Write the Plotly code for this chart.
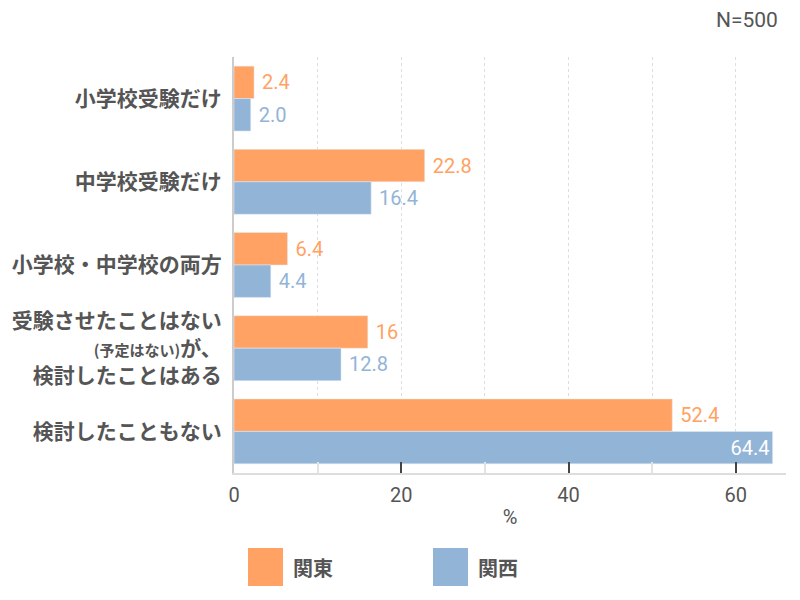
import plotly.graph_objects as go

categories = [
    "小学校受験だけ",
    "中学校受験だけ",
    "小学校・中学校の両方",
    "受験させたことはない<br><span style='font-size:15px'>(予定はない)</span>が、<br>検討したことはある",
    "検討したこともない",
]
kanto = [2.4, 22.8, 6.4, 16, 52.4]
kansai = [2.0, 16.4, 4.4, 12.8, 64.4]
kanto_labels = ["2.4", "22.8", "6.4", "16", "52.4"]
kansai_labels = ["2.0", "16.4", "4.4", "12.8", "64.4"]
x_ticks = [0, 20, 40, 60]

ORANGE = "#FFA263"
BLUE = "#92B4D7"
GRAY = "#555555"
FONT = "Noto Sans CJK JP"

fig = go.Figure()
fig.add_trace(go.Bar(
    y=categories, x=kanto, orientation="h", name="関東",
    marker=dict(color=ORANGE),
    text=[" " + t for t in kanto_labels], textposition="outside",
    textfont=dict(color=ORANGE, size=20, family="Roboto"),
    cliponaxis=False,
))
# last blue label sits inside the bar in white
kansai_pos = ["outside"] * (len(kansai) - 1) + ["inside"]
kansai_col = [BLUE] * (len(kansai) - 1) + ["white"]
kansai_txt = [" " + t for t in kansai_labels[:-1]] + [kansai_labels[-1]]
fig.add_trace(go.Bar(
    y=categories, x=kansai, orientation="h", name="関西",
    marker=dict(color=BLUE),
    text=kansai_txt, textposition=kansai_pos,
    insidetextanchor="end",
    textfont=dict(color=kansai_col, size=20, family="Roboto"),
    cliponaxis=False,
))

# the page body adds an 8px offset, so margins are shifted to compensate
fig.update_layout(
    width=800, height=600,
    barmode="group", bargap=0.22, bargroupgap=0,
    plot_bgcolor="white", paper_bgcolor="white",
    margin=dict(l=226, r=22, t=49, b=135),
    showlegend=False,
    font=dict(family=FONT, color=GRAY),
    uniformtext=dict(mode=False),
)
fig.update_xaxes(
    automargin=False,
    range=[0, 66], tickvals=x_ticks,
    ticks="inside", ticklen=11, tickcolor="#444", tickwidth=1.5,
    ticklabelstandoff=3,
    tickfont=dict(size=20, family="Roboto", color=GRAY),
    showgrid=True, gridcolor="#dddddd", griddash="dot",
    minor=dict(dtick=10, showgrid=True, gridcolor="#dddddd", griddash="dot",
               ticks="inside", ticklen=11, tickcolor="#e3e3e3"),
    showline=True, linecolor="#dddddd", linewidth=2,
    zeroline=False,
    title=dict(text="%", font=dict(size=20, family="Roboto", color=GRAY), standoff=4),
)
fig.update_yaxes(
    automargin=False,
    autorange="reversed",
    showline=True, linecolor="#cccccc", linewidth=2,
    ticks="", ticklabelstandoff=6,
    tickfont=dict(size=21, color=GRAY, family=FONT, weight="bold"),
    showgrid=False,
)

fig.add_annotation(
    text="N=500", xref="paper", yref="paper", x=1, y=1 + (57 - 20) / 416,
    xanchor="right", yanchor="middle", xshift=-6, showarrow=False,
    font=dict(size=21, family="Roboto", color=GRAY),
)

# custom legend with large swatches
legend_items = [("関東", ORANGE, 248), ("関西", BLUE, 433)]
for name, color, px in legend_items:
    x0 = (px - 234) / 552
    x1 = (px + 35 - 234) / 552
    fig.add_shape(type="rect", xref="paper", yref="paper",
                  x0=x0, x1=x1, y0=(473 - 548) / 416, y1=(473 - 586) / 416,
                  fillcolor=color, line=dict(width=0))
    fig.add_annotation(text=name, xref="paper", yref="paper",
                       x=(px + 43 - 234) / 552, y=(473 - 567) / 416,
                       xanchor="left", yanchor="middle", showarrow=False,
                       font=dict(size=20, family=FONT, color=GRAY, weight="bold"))

fig.write_html("out.html")
